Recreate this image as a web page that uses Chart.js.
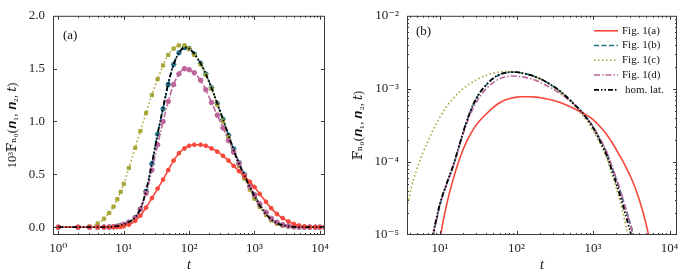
<!DOCTYPE html>
<html><head><meta charset="utf-8">
<script src="https://cdn.jsdelivr.net/npm/chart.js@4/dist/chart.umd.min.js"></script>
<style>
html,body{margin:0;padding:0;background:#fff;}
#wrap{position:relative;width:686px;height:277px;overflow:hidden;}
canvas{position:absolute;top:0;}
</style></head><body>
<div id="wrap">
<canvas id="ca" width="343" height="277" style="left:0"></canvas>
<canvas id="cb" width="343" height="277" style="left:343px"></canvas>
</div>
<script>
// ---- data (values of F in units of 1e-3) ----
const T = [1,2,3,4,5,6,7,8,9,10,12,15,18,22,27,33,40,48,58,70,85,100,120,150,180,220,270,330,400,480,580,700,850,1000,1200,1500,1800,2200,2700,3300,4000,4800,5800,7000,8500,10000,12000];
const figA = [1e-7,1e-7,1e-7,1e-7,2e-6,2e-5,1.5e-4,0.0008,0.003,0.0085,0.024,0.06,0.11,0.185,0.275,0.365,0.45,0.54,0.63,0.70,0.745,0.77,0.78,0.78,0.77,0.745,0.715,0.675,0.63,0.58,0.53,0.48,0.43,0.38,0.315,0.24,0.18,0.125,0.085,0.054,0.031,0.016,0.0065,0.002,0.0004,7e-5,1e-5];
const figB = [1e-8,1e-8,1e-7,1e-5,0.0002,0.001,0.0035,0.009,0.016,0.026,0.047,0.09,0.17,0.34,0.60,0.88,1.12,1.35,1.54,1.65,1.70,1.69,1.64,1.55,1.45,1.32,1.17,1.02,0.87,0.74,0.61,0.50,0.39,0.305,0.215,0.135,0.08,0.044,0.022,0.011,0.0045,0.0014,0.0003,5e-5,5e-6,5e-7,3e-8];
const figC = [1e-7,2e-4,0.006,0.035,0.08,0.135,0.195,0.265,0.335,0.41,0.56,0.75,0.91,1.08,1.25,1.40,1.53,1.63,1.69,1.72,1.72,1.69,1.63,1.54,1.44,1.31,1.16,1.00,0.85,0.71,0.58,0.46,0.355,0.27,0.19,0.115,0.064,0.032,0.013,0.0045,0.0012,0.0003,4e-5,5e-6,3e-7,1e-8,1e-9];
const figD = [1e-8,1e-8,1e-7,1e-5,0.0002,0.001,0.0035,0.009,0.016,0.026,0.047,0.09,0.17,0.32,0.54,0.78,1.00,1.19,1.35,1.45,1.50,1.49,1.46,1.39,1.30,1.18,1.06,0.94,0.82,0.71,0.60,0.49,0.385,0.305,0.22,0.14,0.083,0.046,0.022,0.0105,0.004,0.0012,0.00025,4e-5,4e-6,3e-7,2e-8];
const homLat = [1e-8,1e-8,1e-7,1e-5,0.0002,0.001,0.0035,0.0095,0.017,0.027,0.048,0.092,0.175,0.345,0.60,0.88,1.13,1.36,1.54,1.65,1.70,1.69,1.64,1.55,1.45,1.32,1.17,1.02,0.87,0.73,0.60,0.49,0.38,0.295,0.205,0.125,0.072,0.038,0.018,0.0082,0.003,0.0008,0.00015,2e-5,1.5e-6,1e-7,5e-9];
const seriesNames = ['Fig. 1(a)','Fig. 1(b)','Fig. 1(c)','Fig. 1(d)','hom. lat.'];
const xTicksA = [1,10,100,1000,10000];
const xTicksB = [10,100,1000,10000];
const yTicksA = [0,0.5,1.0,1.5,2.0];
const yTicksB = [1e-5,1e-4,1e-3,1e-2];

const FONT = "'Liberation Serif','DejaVu Serif',serif";
const SUP = {'0':'⁰','1':'¹','2':'²','3':'³','4':'⁴','5':'⁵','6':'⁶','-':'⁻'};
const pow10 = v => '10' + String(Math.round(Math.log10(v))).split('').map(c=>SUP[c]).join('');

const styles = [
  {color:'#f8473a', dash:[], width:1.6, pt:'circle', r:1.9, order:1},
  {color:'#1f6e86', dash:[5,2.5], width:1.6, pt:'star', r:2.8, order:4},
  {color:'#a9a637', dash:[1.5,2.5], width:1.6, pt:'rect', r:2.3, order:3},
  {color:'#bd649b', dash:[6,2,1.5,2], width:1.6, pt:'circle', r:2.3, order:2},
  {color:'#000000', dash:[5,2,1.5,2,1.5,2], width:1.8, pt:false, r:0, order:0},
];
const allSeries = [figA, figB, figC, figD, homLat];

function makeDatasets(scale, markers){
  return allSeries.map((arr,i)=>{
    const s = styles[i];
    return {
      label: seriesNames[i],
      data: T.map((t,k)=>({x:t, y:arr[k]*scale})),
      borderColor: s.color, backgroundColor: s.color,
      borderWidth: s.width, borderDash: s.dash,
      pointStyle: markers ? s.pt : false,
      pointRadius: markers ? s.r : 0,
      pointBorderWidth: s.pt==='star'?1.3:1,
      pointBackgroundColor: s.color, pointBorderColor: s.color,
      cubicInterpolationMode:'monotone', fill:false, order:s.order
    };
  });
}

function logMinor(min,max){
  const out=[];
  for(let k=Math.floor(Math.log10(min));k<=Math.ceil(Math.log10(max));k++){
    for(let m=1;m<=9;m++){ out.push([m*Math.pow(10,k), m===1]); }
  }
  return out;
}

const framePlugin = {
  id:'frame',
  afterDraw(chart, args, o){
    const {ctx, chartArea:a, scales} = chart;
    ctx.save();
    ctx.strokeStyle='#3a3a3a'; ctx.lineWidth=1; ctx.setLineDash([]);
    ctx.strokeRect(a.left+0.5, a.top+0.5, a.right-a.left-1, a.bottom-a.top-1);
    ctx.beginPath();
    o.xt.forEach(([v,maj])=>{
      const px=Math.round(scales.x.getPixelForValue(v))+0.5;
      if(px<a.left+1||px>a.right-1) return;
      const L=maj?4:2;
      ctx.moveTo(px,a.bottom); ctx.lineTo(px,a.bottom-L);
      ctx.moveTo(px,a.top); ctx.lineTo(px,a.top+L);
    });
    o.yt.forEach(([v,maj])=>{
      const py=Math.round(scales.y.getPixelForValue(v))+0.5;
      if(py<a.top+1||py>a.bottom-1) return;
      const L=maj?4:2;
      ctx.moveTo(a.left,py); ctx.lineTo(a.left+L,py);
      ctx.moveTo(a.right,py); ctx.lineTo(a.right-L,py);
    });
    ctx.stroke();
    ctx.fillStyle='#111'; ctx.font='13px '+FONT; ctx.textBaseline='middle'; ctx.textAlign='left';
    ctx.fillText(o.label, a.left+o.lx, a.top+o.ly);
    if(o.legend){
      ctx.font='11px '+FONT;
      chart.data.datasets.forEach((d,i)=>{
        const y=a.top+15+i*14.75;
        ctx.strokeStyle=d.borderColor; ctx.lineWidth=d.borderWidth; ctx.setLineDash(d.borderDash);
        ctx.beginPath(); ctx.moveTo(a.right-83,y); ctx.lineTo(a.right-59,y); ctx.stroke();
        ctx.setLineDash([]);
        ctx.fillStyle='#111';
        ctx.fillText(d.label, a.right-55+(i===4?3:0), y);
      });
    }
    ctx.restore();
  }
};

const tickFont = {family:FONT, size:13};
function common(){
  return {
    responsive:false, animation:false, devicePixelRatio:1,
    plugins:{legend:{display:false}, tooltip:{enabled:false}},
  };
}

// ---- panel (a) ----
new Chart(document.getElementById('ca'), {
  type:'line',
  data:{datasets: makeDatasets(1, true)},
  options: Object.assign(common(), {
    layout:{padding:{left:0, top:12, right:18, bottom:0}},
    plugins:{legend:{display:false}, tooltip:{enabled:false},
      frame:{xt:logMinor(1,10000), yt:yTicksA.map(v=>[v,true]), label:'(a)', lx:10, ly:20, legend:false}},
    scales:{
      x:{type:'logarithmic', min:0.83, max:11970,
         afterBuildTicks:s=>{s.ticks=xTicksA.map(v=>({value:v}));},
         ticks:{callback:v=>pow10(v), autoSkip:false, maxRotation:0, padding:6, color:'#222', font:tickFont},
         grid:{display:false, drawTicks:false}, border:{display:false},
         title:{display:true, text:'t', font:{family:FONT, size:14, style:'italic'}, color:'#111', padding:{top:0,bottom:3}},
         afterFit:s=>{s.height=42;}},
      y:{type:'linear', min:-0.074, max:2.0,
         afterBuildTicks:s=>{s.ticks=yTicksA.map(v=>({value:v}));},
         ticks:{callback:v=>v.toFixed(1), autoSkip:false, padding:8, color:'#222', font:tickFont},
         grid:{display:false, drawTicks:false}, border:{display:false},
         title:{display:true, text:'10³𝔽ₙ₀(𝒏₁, 𝒏₂, 𝑡)', font:{family:FONT, size:12.5}, color:'#111', padding:{top:5,bottom:0}},
         afterFit:s=>{s.width=53;}}
    }
  }),
  plugins:[framePlugin]
});

// ---- panel (b) ----
new Chart(document.getElementById('cb'), {
  type:'line',
  data:{datasets: makeDatasets(1e-3, false)},
  options: Object.assign(common(), {
    layout:{padding:{left:0, top:12, right:9, bottom:0}},
    plugins:{legend:{display:false}, tooltip:{enabled:false},
      frame:{xt:logMinor(1,10000), yt:logMinor(1e-5,1e-2), label:'(b)', lx:9, ly:16, legend:true}},
    scales:{
      x:{type:'logarithmic', min:3.704, max:12530,
         afterBuildTicks:s=>{s.ticks=xTicksB.map(v=>({value:v}));},
         ticks:{callback:v=>pow10(v), autoSkip:false, maxRotation:0, padding:6, color:'#222', font:tickFont},
         grid:{display:false, drawTicks:false}, border:{display:false},
         title:{display:true, text:'t', font:{family:FONT, size:14, style:'italic'}, color:'#111', padding:{top:0,bottom:3}},
         afterFit:s=>{s.height=42;}},
      y:{type:'logarithmic', min:1e-5, max:1e-2,
         afterBuildTicks:s=>{s.ticks=yTicksB.map(v=>({value:v}));},
         ticks:{callback:v=>pow10(v), autoSkip:false, padding:8, color:'#222', font:tickFont},
         grid:{display:false, drawTicks:false}, border:{display:false},
         title:{display:true, text:'𝔽ₙ₀(𝒏₁, 𝒏₂, 𝑡)', font:{family:FONT, size:12.5}, color:'#111', padding:{top:8,bottom:0}},
         afterFit:s=>{s.width=64;}}
    }
  }),
  plugins:[framePlugin]
});
</script>
</body></html>
